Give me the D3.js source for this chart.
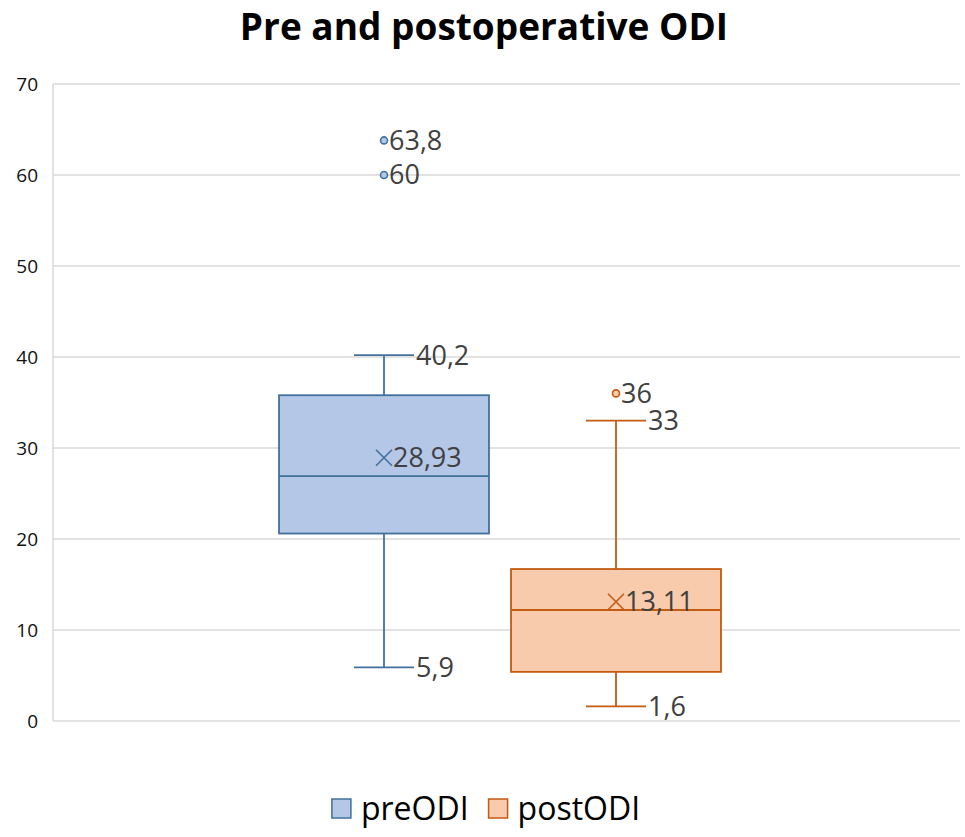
<!DOCTYPE html>
<html>
<head>
<meta charset="utf-8">
<script src="https://cdn.jsdelivr.net/npm/d3@7"></script>
<style>
  html, body { margin: 0; padding: 0; background: #fff; }
  svg { display: block; font-family: "Open Sans", "Noto Sans", sans-serif; }
</style>
</head>
<body>
<svg id="chart" width="965" height="837"></svg>
<script>
// ---- data ----
const series = ["preODI", "postODI"];
const whiskerLow = [5.9, 1.6];
const q1 = [20.6, 5.4];
const median = [26.9, 12.2];
const q3 = [35.8, 16.7];
const whiskerHigh = [40.2, 33];
const means = [28.93, 13.11];
const outliers = [[63.8, 60], [36]];
const yTicks = [0, 10, 20, 30, 40, 50, 60, 70];
const fills = ["#b4c7e7", "#f8cbad"];
const strokes = ["#41719c", "#c55a11"];
const title = "Pre and postoperative ODI";

// ---- layout ----
const W = 965, H = 837;
const plot = { left: 53, right: 960, top: 84, bottom: 721 };
const svg = d3.select("#chart");

const y = d3.scaleLinear().domain([0, 70]).range([plot.bottom, plot.top]);
const x = d3.scaleBand().domain(series).range([268, 732]).padding(0);
const boxW = x.bandwidth() * 0.905;
const capHalf = 30;
const fmt = v => String(v).replace(".", ",");
const fmtMean = v => v.toFixed(2).replace(".", ",");
const labelColor = "#404040";
const gridColor = "#d9d9d9";

// title
svg.append("text")
  .attr("x", 484).attr("y", 40)
  .attr("text-anchor", "middle")
  .attr("font-size", 37).attr("font-weight", 700)
  .attr("fill", "#000")
  .text(title);

// gridlines
svg.append("g").selectAll("line")
  .data(yTicks.filter(d => d > 0))
  .join("line")
  .attr("x1", plot.left).attr("x2", plot.right)
  .attr("y1", d => y(d)).attr("y2", d => y(d))
  .attr("stroke", gridColor).attr("stroke-width", 1.5);

// axes lines
svg.append("line")
  .attr("x1", plot.left).attr("x2", plot.left)
  .attr("y1", plot.top).attr("y2", plot.bottom)
  .attr("stroke", gridColor).attr("stroke-width", 1.5);
svg.append("line")
  .attr("x1", plot.left).attr("x2", plot.right)
  .attr("y1", plot.bottom).attr("y2", plot.bottom)
  .attr("stroke", gridColor).attr("stroke-width", 1.5);

// y tick labels
const yAxis = d3.axisLeft(y).tickValues(yTicks).tickSize(0).tickPadding(15).tickFormat(d3.format("d"));
const ya = svg.append("g").attr("transform", `translate(${plot.left},0)`).call(yAxis);
ya.select(".domain").remove();
ya.selectAll("text").attr("font-size", 19).attr("fill", "#111").attr("font-family", "'Open Sans', sans-serif");

// boxes
series.forEach((s, i) => {
  const cx = x(s) + x.bandwidth() / 2;
  const g = svg.append("g");
  const st = strokes[i];
  // whiskers
  g.append("line").attr("x1", cx).attr("x2", cx)
    .attr("y1", y(whiskerHigh[i])).attr("y2", y(q3[i]))
    .attr("stroke", st).attr("stroke-width", 1.8);
  g.append("line").attr("x1", cx).attr("x2", cx)
    .attr("y1", y(q1[i])).attr("y2", y(whiskerLow[i]))
    .attr("stroke", st).attr("stroke-width", 1.8);
  [whiskerHigh[i], whiskerLow[i]].forEach(v => {
    g.append("line").attr("x1", cx - capHalf).attr("x2", cx + capHalf)
      .attr("y1", y(v)).attr("y2", y(v))
      .attr("stroke", st).attr("stroke-width", 1.8);
    g.append("text").attr("x", cx + capHalf + 2).attr("y", y(v))
      .attr("dy", "0.35em").attr("font-size", 27).attr("fill", labelColor)
      .text(fmt(v));
  });
  // box
  g.append("rect")
    .attr("x", cx - boxW / 2).attr("width", boxW)
    .attr("y", y(q3[i])).attr("height", y(q1[i]) - y(q3[i]))
    .attr("fill", fills[i]).attr("stroke", st).attr("stroke-width", 1.8);
  // median
  g.append("line").attr("x1", cx - boxW / 2).attr("x2", cx + boxW / 2)
    .attr("y1", y(median[i])).attr("y2", y(median[i]))
    .attr("stroke", st).attr("stroke-width", 1.8);
  // mean marker
  const my = y(means[i]), ms = 8;
  g.append("path")
    .attr("d", `M${cx - ms},${my - ms}L${cx + ms},${my + ms}M${cx - ms},${my + ms}L${cx + ms},${my - ms}`)
    .attr("stroke", st).attr("stroke-width", 1.6).attr("fill", "none");
  g.append("text").attr("x", cx + ms + 1).attr("y", my)
    .attr("dy", "0.35em").attr("font-size", 27).attr("fill", labelColor)
    .text(fmtMean(means[i]));
  // outliers
  outliers[i].forEach(v => {
    g.append("circle").attr("cx", cx).attr("cy", y(v)).attr("r", 3.5)
      .attr("fill", fills[i]).attr("stroke", st).attr("stroke-width", 1.6);
    g.append("text").attr("x", cx + 5).attr("y", y(v))
      .attr("dy", "0.35em").attr("font-size", 27).attr("fill", labelColor)
      .text(fmt(v));
  });
});

// legend
const lg = svg.append("g");
const legendFont = 32;
let items = series.map((s, i) => ({ s, i }));
const tmp = lg.append("text").attr("font-size", legendFont);
const widths = series.map(s => { tmp.text(s); return tmp.node().getComputedTextLength(); });
tmp.remove();
const sq = 19, gapSqText = 10, gapItems = 20;
const total = d3.sum(widths) + series.length * (sq + gapSqText) + gapItems * (series.length - 1);
let lx = 486 - total / 2;
series.forEach((s, i) => {
  lg.append("rect").attr("x", lx).attr("y", 799).attr("width", sq).attr("height", sq)
    .attr("fill", fills[i]).attr("stroke", strokes[i]).attr("stroke-width", 1.5);
  lg.append("text").attr("x", lx + sq + gapSqText).attr("y", 820)
    .attr("font-size", legendFont).attr("fill", "#000").text(s);
  lx += sq + gapSqText + widths[i] + gapItems;
});
</script>
</body>
</html>
